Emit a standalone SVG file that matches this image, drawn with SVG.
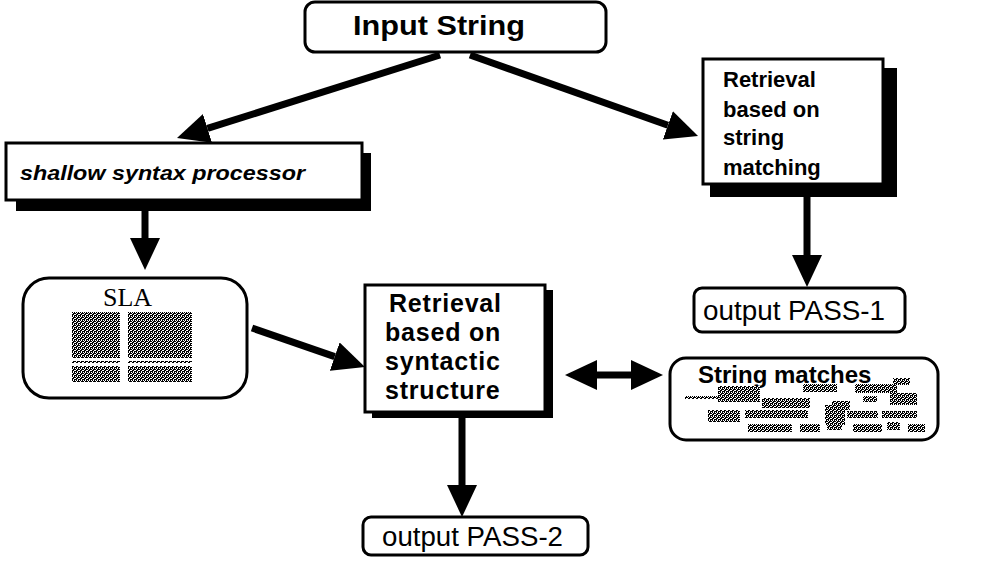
<svg xmlns="http://www.w3.org/2000/svg" width="1000" height="561" viewBox="0 0 1000 561">
<style>
.box{fill:#fff;stroke:#000;stroke-width:3}
.shadow{fill:#000}
.conn{stroke:#000;stroke-width:7;fill:none}
.b{font-family:"Liberation Sans",Arial,sans-serif;font-weight:bold;fill:#000}
.r{font-family:"Liberation Sans",Arial,sans-serif;fill:#000}
.s{font-family:"Liberation Serif","Times New Roman",serif;fill:#000}
.d{fill:url(#dith)}
</style>
<defs>
<pattern id="dith" width="4" height="4" patternUnits="userSpaceOnUse">
<rect width="4" height="4" fill="#000"/>
<rect x="1" y="0" width="1" height="1" fill="#fff"/>
<rect x="3" y="0" width="1" height="1" fill="#fff"/>
<rect x="0" y="1" width="1" height="1" fill="#fff"/>
<rect x="2" y="2" width="1" height="1" fill="#fff"/>
<rect x="1" y="3" width="1" height="1" fill="#fff"/>
<rect x="3" y="2" width="1" height="1" fill="#fff"/>
</pattern>
<marker id="ah" viewBox="0 0 32 30" refX="0" refY="15" markerWidth="32" markerHeight="30" markerUnits="userSpaceOnUse" orient="auto-start-reverse">
<path d="M0,0 L32,15 L0,30 z" fill="#000"/>
</marker>
</defs>

<g id="connectors">
<line class="conn" x1="440" y1="55" x2="207.5" y2="128.4" marker-end="url(#ah)"/>
<line class="conn" x1="470" y1="55" x2="667.9" y2="125.3" marker-end="url(#ah)"/>
<line class="conn" x1="145" y1="211" x2="145" y2="238" marker-end="url(#ah)"/>
<line class="conn" x1="807" y1="197" x2="807" y2="255" marker-end="url(#ah)"/>
<line class="conn" x1="252" y1="328" x2="334.7" y2="356.6" marker-end="url(#ah)"/>
<line class="conn" x1="462" y1="412" x2="462" y2="485" marker-end="url(#ah)"/>
<line class="conn" x1="597" y1="375" x2="631" y2="375" stroke-width="6" marker-start="url(#ah)" marker-end="url(#ah)"/>
</g>

<g id="input-string">
<rect class="box" x="305" y="2" width="301" height="50" rx="10"/>
<text class="b" x="353" y="35" font-size="28" textLength="172" lengthAdjust="spacingAndGlyphs">Input String</text>
</g>

<g id="shallow-syntax">
<rect class="shadow" x="16" y="153" width="355" height="58"/>
<rect class="box" x="6" y="143" width="356" height="57"/>
<text class="b" x="20" y="180" font-size="21" font-style="italic" textLength="285" lengthAdjust="spacingAndGlyphs">shallow syntax processor</text>
</g>

<g id="retrieval-string">
<rect class="shadow" x="710" y="68" width="187" height="129"/>
<rect class="box" x="703" y="59" width="180" height="125"/>
<text class="b" font-size="22">
<tspan x="723" y="87">Retrieval</tspan>
<tspan x="723" y="117">based on</tspan>
<tspan x="723" y="145">string</tspan>
<tspan x="723" y="175">matching</tspan>
</text>
</g>

<g id="output-pass-1">
<rect class="box" x="694" y="288" width="211" height="44" rx="8"/>
<text class="r" x="703" y="320" font-size="27" textLength="182" lengthAdjust="spacingAndGlyphs">output PASS-1</text>
</g>

<g id="sla">
<rect class="box" x="23" y="278" width="224" height="120" rx="26"/>
<text class="s" x="103" y="306" font-size="26">SLA</text>
<rect class="d" x="72" y="312" width="48" height="46"/>
<rect class="d" x="128" y="312" width="64" height="46"/>
<rect class="d" x="72" y="361" width="48" height="2"/>
<rect class="d" x="128" y="361" width="64" height="2"/>
<rect class="d" x="72" y="366" width="48" height="16"/>
<rect class="d" x="128" y="366" width="64" height="16"/>
</g>

<g id="retrieval-syntactic">
<rect class="shadow" x="372" y="290" width="181" height="128"/>
<rect class="box" x="365" y="285" width="180" height="127"/>
<text class="b" font-size="25" letter-spacing="0.8">
<tspan x="389" y="312">Retrieval</tspan>
<tspan x="385" y="341">based on</tspan>
<tspan x="385" y="370">syntactic</tspan>
<tspan x="385" y="399">structure</tspan>
</text>
</g>

<g id="string-matches">
<rect class="box" x="670" y="358" width="268" height="82" rx="16"/>
<text class="b" x="698" y="383" font-size="24">String matches</text>
<rect class="d" x="803" y="384" width="34" height="8"/>
<rect class="d" x="855" y="384" width="42" height="9"/>
<rect class="d" x="893" y="378" width="17" height="7"/>
<rect class="d" x="685" y="396" width="33" height="3"/>
<rect class="d" x="718" y="386" width="42" height="16"/>
<rect class="d" x="762" y="398" width="48" height="10"/>
<rect class="d" x="832" y="401" width="18" height="9"/>
<rect class="d" x="863" y="396" width="14" height="6"/>
<rect class="d" x="890" y="393" width="27" height="12"/>
<rect class="d" x="708" y="410" width="32" height="12"/>
<rect class="d" x="745" y="410" width="63" height="8"/>
<rect class="d" x="825" y="405" width="20" height="20"/>
<rect class="d" x="847" y="411" width="31" height="7"/>
<rect class="d" x="882" y="411" width="35" height="7"/>
<rect class="d" x="748" y="424" width="44" height="8"/>
<rect class="d" x="800" y="424" width="20" height="8"/>
<rect class="d" x="827" y="421" width="15" height="9"/>
<rect class="d" x="853" y="424" width="29" height="8"/>
<rect class="d" x="887" y="422" width="13" height="8"/>
<rect class="d" x="908" y="424" width="17" height="8"/>
</g>

<g id="output-pass-2">
<rect class="box" x="363" y="517" width="225" height="38" rx="8"/>
<text class="r" x="382" y="546" font-size="27" textLength="181" lengthAdjust="spacingAndGlyphs">output PASS-2</text>
</g>
</svg>
